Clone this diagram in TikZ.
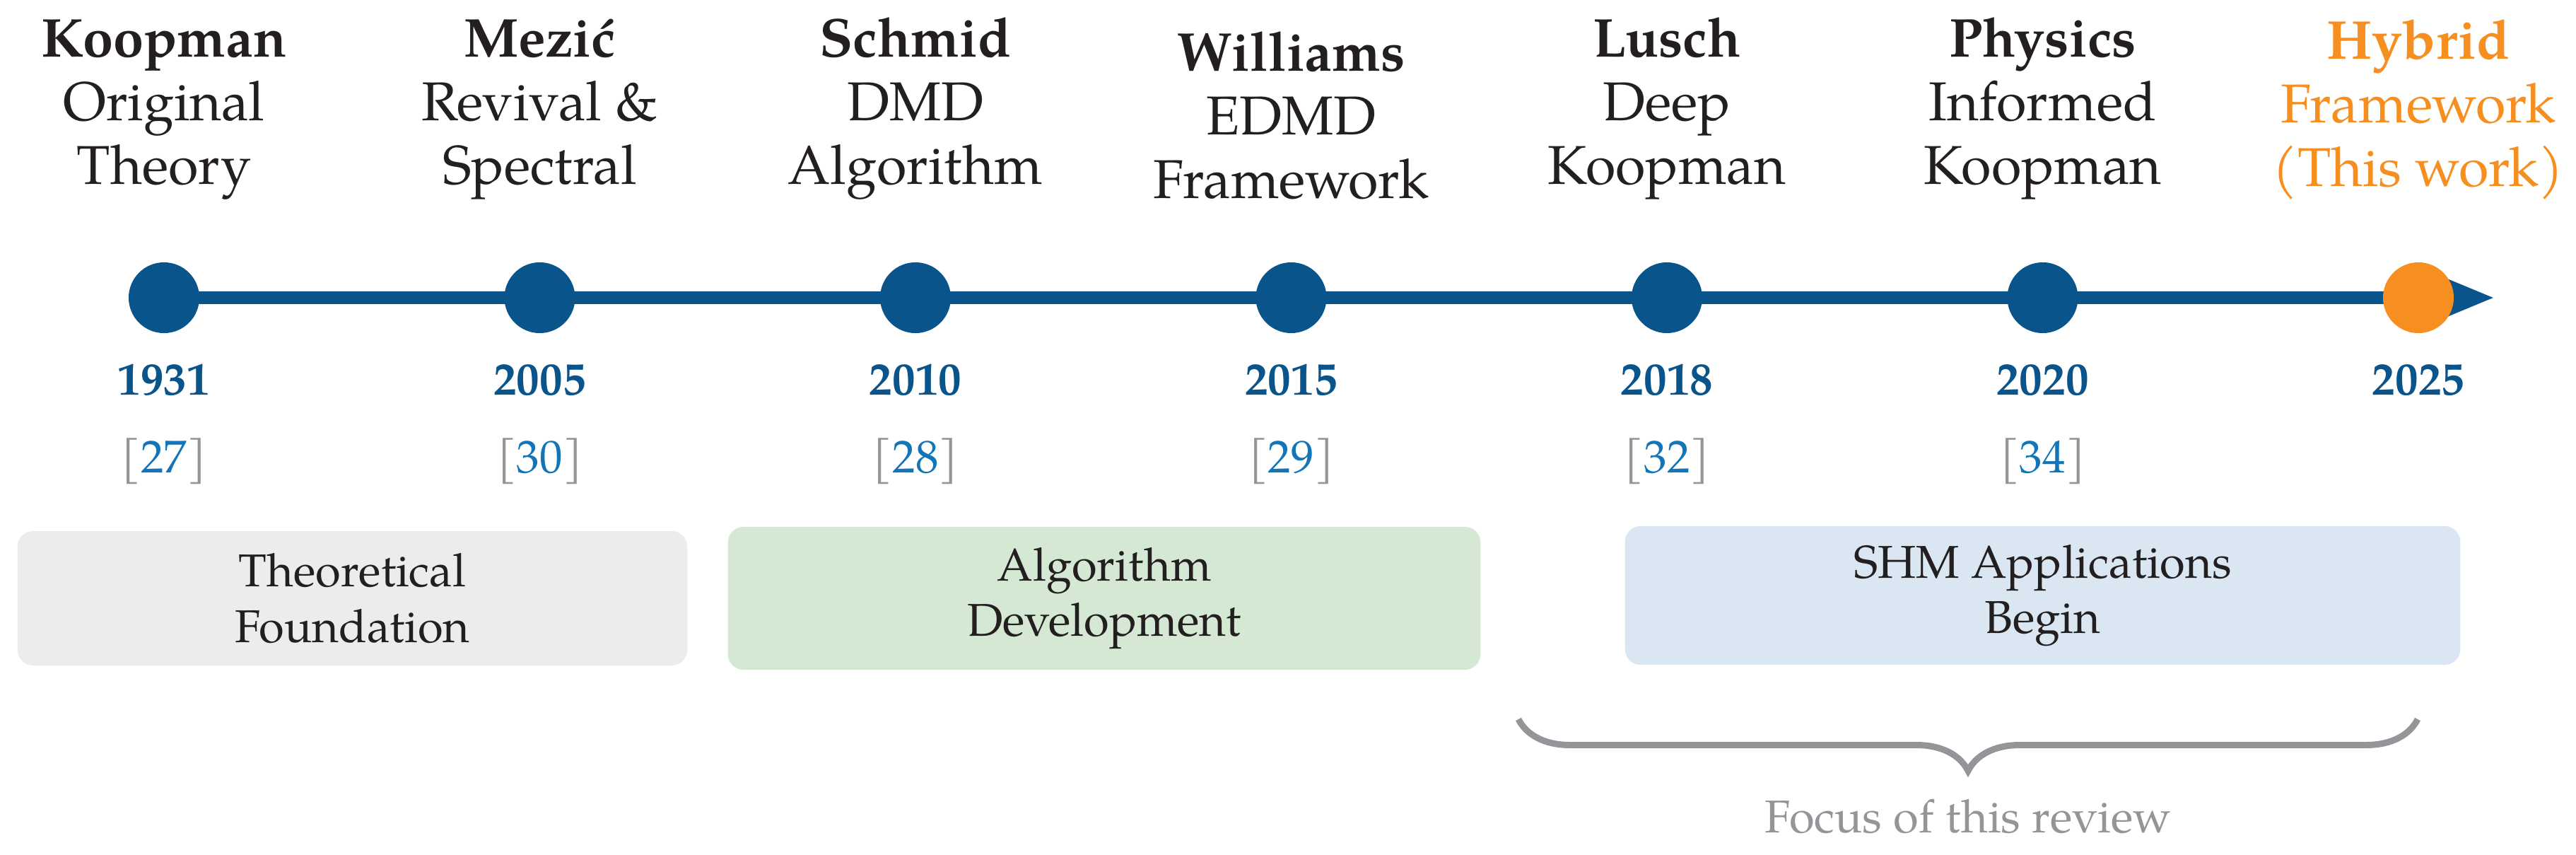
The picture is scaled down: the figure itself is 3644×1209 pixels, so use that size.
\documentclass[tikz,border=0pt]{standalone}
\usepackage{fontspec}
\IfFontExistsTF{TeX Gyre Pagella}{\setmainfont{TeX Gyre Pagella}}{\setmainfont{Liberation Serif}}
\usetikzlibrary{arrows.meta,decorations.pathreplacing}
\definecolor{tlblue}{HTML}{0A548C}
\definecolor{tlorange}{HTML}{F68E20}
\definecolor{citeblue}{HTML}{1275B8}
\definecolor{tlgray}{HTML}{939598}
\definecolor{txt}{HTML}{231F20}
\definecolor{boxgray}{HTML}{ECECEC}
\definecolor{boxgreen}{HTML}{D5E8D4}
\definecolor{boxblue}{HTML}{DAE6F1}
\begin{document}
\begin{tikzpicture}[x=0.01cm,y=0.01cm,
  dot/.style={circle,fill=tlblue,inner sep=0pt,minimum size=1cm},
  hotdot/.style={circle,fill=tlorange,inner sep=0pt,minimum size=1cm},
  axisline/.style={draw=tlblue,line width=0.18cm,-{Triangle[length=0.91cm,width=0.68cm]}},
  head/.style={anchor=south,inner sep=0pt,align=center,text=txt,font=\fontsize{22}{25.6}\selectfont},
  hothead/.style={head,text=tlorange},
  year/.style={anchor=base,inner sep=0pt,text=tlblue,font=\fontsize{18.5}{22}\selectfont\bfseries},
  cite/.style={anchor=base,inner sep=0pt,text=tlgray,font=\fontsize{18.5}{22}\selectfont},
  phase/.style={rounded corners=0.22cm,inner sep=0pt,align=center,text=txt,font=\fontsize{18.5}{22.2}\selectfont},
  bracestyle/.style={draw=tlgray,line width=0.09cm,decorate,decoration={brace,amplitude=0.73cm}},
  note/.style={anchor=base,inner sep=0pt,text=tlgray,font=\fontsize{18.5}{22}\selectfont}
]
\useasboundingbox (0,0) rectangle (3644,-1209);

% phase boxes
\node[phase,fill=boxgray,minimum width=9.47cm,minimum height=1.90cm] (p1) at (498.5,-846) {Theoretical\\Foundation};
\node[phase,fill=boxgreen,minimum width=10.64cm,minimum height=2.02cm] (p2) at (1562,-846) {Algorithm\\Development};
\node[phase,fill=boxblue,minimum width=11.81cm,minimum height=1.96cm] (p3) at (2889.5,-842) {SHM Applications\\Begin};

% timeline
\coordinate (tip) at (3529,-421);
\coordinate (start) at (232,-421);
\draw[axisline] (start) -- (tip);
\node[dot] (c1) at (232,-421) {};
\node[dot] (c2) at (763.5,-421) {};
\node[dot] (c3) at (1295,-421) {};
\node[dot] (c4) at (1826.5,-421) {};
\node[dot] (c5) at (2358,-421) {};
\node[dot] (c6) at (2889.5,-421) {};
\node[hotdot] (c7) at (3421,-421) {};

% headings
\node[head] (h1) at (232,-283) {\textbf{Koopman}\\Original\\Theory};
\node[head] (h2) at (763.5,-283) {\textbf{Mezić}\\Revival \&\\Spectral};
\node[head] (h3) at (1295,-283) {\textbf{Schmid}\\DMD\\Algorithm};
\node[head] (h4) at (1826.5,-283) {\textbf{Williams}\\EDMD\\Framework};
\node[head] (h5) at (2358,-283) {\textbf{Lusch}\\Deep\\Koopman};
\node[head] (h6) at (2889.5,-283) {\textbf{Physics}\\Informed\\Koopman};
\node[hothead] (h7) at (3421,-283) {\textbf{Hybrid}\\Framework\\(This work)};

% years
\node[year] (y1) at (232,-558) {1931};
\node[year] (y2) at (763.5,-558) {2005};
\node[year] (y3) at (1295,-558) {2010};
\node[year] (y4) at (1826.5,-558) {2015};
\node[year] (y5) at (2358,-558) {2018};
\node[year] (y6) at (2889.5,-558) {2020};
\node[year] (y7) at (3421,-558) {2025};

% citations
\node[cite] (r1) at (232,-668) {[\textcolor{citeblue}{27}]};
\node[cite] (r2) at (763.5,-668) {[\textcolor{citeblue}{30}]};
\node[cite] (r3) at (1295,-668) {[\textcolor{citeblue}{28}]};
\node[cite] (r4) at (1826.5,-668) {[\textcolor{citeblue}{29}]};
\node[cite] (r5) at (2358,-668) {[\textcolor{citeblue}{32}]};
\node[cite] (r6) at (2889.5,-668) {[\textcolor{citeblue}{34}]};

% focus brace
\coordinate (bR) at (3420,-1017);
\coordinate (bL) at (2148,-1017);
\draw[bracestyle] (bR) -- (bL);
\node[note] (focus) at (2784,-1177) {Focus of this review};
\end{tikzpicture}
\end{document}
